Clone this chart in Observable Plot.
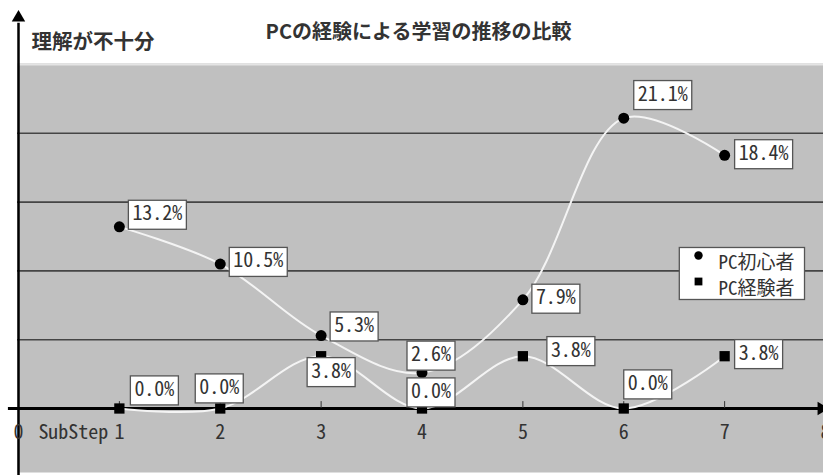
<!DOCTYPE html>
<html><head><meta charset="utf-8">
<script src="https://cdn.jsdelivr.net/npm/d3@7"></script>
<script src="https://cdn.jsdelivr.net/npm/@observablehq/plot@0.6"></script>
<style>body{margin:0;background:#fff} svg{display:block}</style>
</head><body><div id="chart"></div>
<script>
// ---- data ----
const steps = [1, 2, 3, 4, 5, 6, 7];
const beginner = [13.2, 10.5, 5.3, 2.6, 7.9, 21.1, 18.4];     // PC初心者
const experienced = [0.0, 0.0, 3.8, 0.0, 3.8, 0.0, 3.8];      // PC経験者
const seriesNames = ["PC初心者", "PC経験者"];
const xTicks = [0, 1, 2, 3, 4, 5, 6, 7, 8];
const gridValues = [5, 10, 15, 20];
const title = "PCの経験による学習の推移の比較";
const yLabel = "理解が不十分";
const xLabel = "SubStep";

// ---- label box-centre nudges (layout, px) ----
const beginnerNudge = [[13, -10], [13, 0], [13, -7], [-11, -15], [13, 1], [14, -21], [14, 1]];
const experiencedNudge = [[15, -16], [-21, -18], [-10, 18], [-11, -14], [28, -3], [4, -22], [14, 0]];
const TEXT_RAISE = 3;   // text sits a little above the box centre
const BOX_H = 29;

const MONO = "'Noto Sans Mono CJK JP','Noto Sans CJK JP','DejaVu Sans Mono',monospace";
const CJK = "'Noto Sans CJK JP',sans-serif";
const TXT = "#333";

const bData = steps.map((s, i) => ({step: s, value: beginner[i], nudge: beginnerNudge[i]}));
const eData = steps.map((s, i) => ({step: s, value: experienced[i], nudge: experiencedNudge[i]}));
const fmt = v => v.toFixed(1) + "%";

const labelMarks = [...bData, ...eData].map(d =>
  Plot.text([d], {
    x: "step", y: "value", text: r => fmt(r.value),
    dx: d.nudge[0], dy: d.nudge[1] - TEXT_RAISE, textAnchor: "start",
    fontFamily: MONO, fontSize: 20, fill: TXT, ariaDescription: "value-label"
  })
);

const yDomain = [0, 25];
const xDomain = [0, 8];
const axisYExtent = [-5, 28.4];
const axisXExtent = [-0.1, 7.96];

const chart = Plot.plot({
  width: 823, height: 475,
  marginTop: 63, marginBottom: 3, marginLeft: 17, marginRight: 0,
  x: {domain: xDomain, range: [18, 825], axis: null},
  y: {domain: yDomain, range: [408, 64], axis: null},
  style: {fontFamily: CJK, background: "#fff", overflow: "visible"},
  marks: [
    Plot.frame({fill: "#c0c0c0", stroke: null}),
    Plot.ruleY(gridValues, {stroke: "#454545", strokeWidth: 1.6}),
    Plot.ruleY([yDomain[1]], {stroke: "#e4e4e4", strokeWidth: 2}),
    // axes
    Plot.ruleY([0], {x1: axisXExtent[0], x2: axisXExtent[1], stroke: "#000", strokeWidth: 3}),
    Plot.ruleX([0], {y1: axisYExtent[0], y2: axisYExtent[1] - 0.4, stroke: "#000", strokeWidth: 2.5}),
    Plot.dot([0], {x: () => 0, y: () => axisYExtent[1], symbol: "triangle", r: 5, fill: "#000", stroke: null}),
    Plot.dot([0], {x: () => axisXExtent[1], y: () => 0, symbol: "triangle", rotate: 90, r: 5, fill: "#000", stroke: null}),
    Plot.ruleX(steps, {y1: 0, y2: 0.5, stroke: "#333", strokeWidth: 1}),
    // tick labels
    Plot.text(xTicks, {x: d => d, y: () => 0, dy: 24, text: d => String(d), fontFamily: MONO, fontSize: 20, fill: TXT}),
    Plot.text([xLabel], {x: () => 1, y: () => 0, dx: -11, dy: 24, textAnchor: "end", fontFamily: MONO, fontSize: 20, fill: TXT}),
    // title & y label
    Plot.text([title], {frameAnchor: "top", dx: -2, dy: -39, fontFamily: CJK, fontSize: 20, fontWeight: "bold", fill: TXT}),
    Plot.text([yLabel], {frameAnchor: "top-left", dx: 14, dy: -29, textAnchor: "start", fontFamily: CJK, fontSize: 20.5, fontWeight: "bold", fill: TXT}),
    // series lines
    Plot.line(bData, {x: "step", y: "value", curve: "catmull-rom", stroke: "#f4f4f4", strokeWidth: 2}),
    Plot.line(eData, {x: "step", y: "value", curve: "catmull-rom", stroke: "#f4f4f4", strokeWidth: 2}),
    Plot.dot(bData, {x: "step", y: "value", symbol: "circle", r: 5.5, fill: "#000", stroke: null}),
    Plot.dot(eData, {x: "step", y: "value", symbol: "square", r: 5.8, fill: "#000", stroke: null}),
    ...labelMarks,
    // legend
    Plot.dot([seriesNames[0]], {frameAnchor: "top-right", dx: -125, dy: 192, symbol: "circle", r: 4.2, fill: "#000", stroke: null, ariaDescription: "legend"}),
    Plot.dot([seriesNames[1]], {frameAnchor: "top-right", dx: -125, dy: 218, symbol: "square", r: 4.4, fill: "#000", stroke: null, ariaDescription: "legend"}),
    Plot.text([seriesNames[0]], {frameAnchor: "top-right", dx: -105, dy: 192, textAnchor: "start", fontFamily: MONO, fontSize: 19, fill: TXT, ariaDescription: "legend"}),
    Plot.text([seriesNames[1]], {frameAnchor: "top-right", dx: -105, dy: 218, textAnchor: "start", fontFamily: MONO, fontSize: 19, fill: TXT, ariaDescription: "legend"})
  ]
});

document.getElementById("chart").append(chart);

// boxes behind value labels and legend
const NS = "http://www.w3.org/2000/svg";
const sr = chart.getBoundingClientRect();
function box(x, y, w, h, before) {
  const r = document.createElementNS(NS, "rect");
  r.setAttribute("x", x); r.setAttribute("y", y);
  r.setAttribute("width", w); r.setAttribute("height", h);
  r.setAttribute("fill", "#fff"); r.setAttribute("stroke", "#555"); r.setAttribute("stroke-width", 1.3);
  before.parentNode.insertBefore(r, before);
}
chart.querySelectorAll('g[aria-description="value-label"] text').forEach(t => {
  const r = t.getBoundingClientRect();
  const cy = (r.top + r.bottom) / 2 - sr.top + TEXT_RAISE;
  box(r.left - sr.left - 4, cy - BOX_H / 2, r.width + 8, BOX_H, t.parentNode);
});
const legendGroups = [...chart.querySelectorAll('g[aria-description="legend"]')];
if (legendGroups.length) {
  let L = Infinity, R = -Infinity, T = Infinity, B = -Infinity;
  legendGroups.forEach(g => {
    const r = g.getBoundingClientRect();
    L = Math.min(L, r.left); R = Math.max(R, r.right); T = Math.min(T, r.top); B = Math.max(B, r.bottom);
  });
  const cy = (T + B) / 2 - sr.top;
  box(L - sr.left - 15, cy - 26, R - L + 25, 52, legendGroups[0]);
}
</script>
</body></html>
